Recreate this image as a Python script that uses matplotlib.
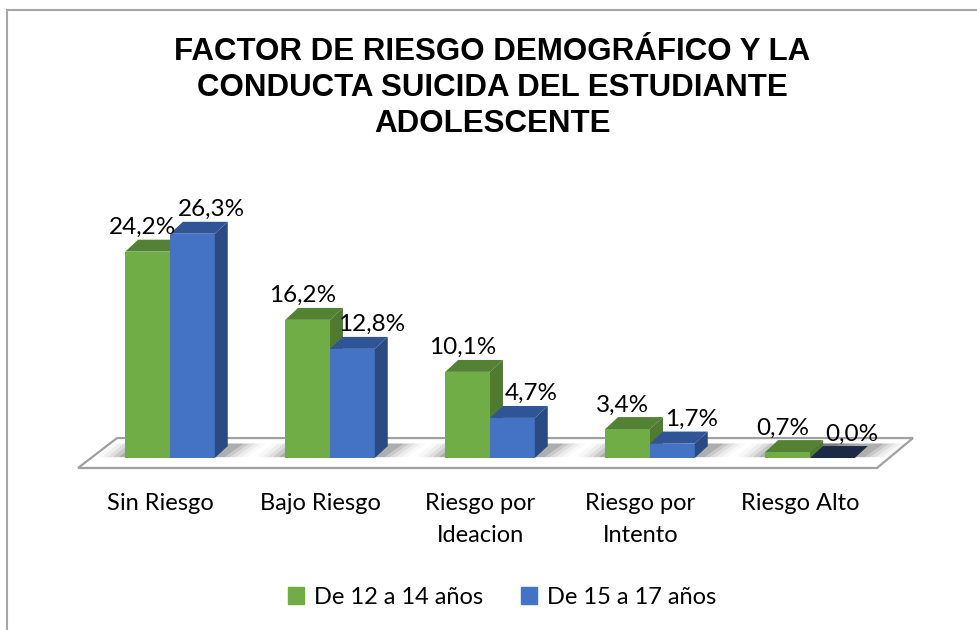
import matplotlib
matplotlib.use("Agg")
import matplotlib.pyplot as plt
from matplotlib.patches import Polygon, Rectangle

categories = ["Sin Riesgo", "Bajo Riesgo", "Riesgo por\nIdeacion", "Riesgo por\nIntento", "Riesgo Alto"]
series_names = ["De 12 a 14 años", "De 15 a 17 años"]
vals_12_14 = [24.2, 16.2, 10.1, 3.4, 0.7]
vals_15_17 = [26.3, 12.8, 4.7, 1.7, 0.0]

TITLE = "FACTOR DE RIESGO DEMOGRÁFICO Y LA\nCONDUCTA SUICIDA DEL ESTUDIANTE\nADOLESCENTE"

# front / top / side shades per series
GREEN = ("#70AD47", "#548235", "#4E7A31")
BLUE = ("#4472C4", "#2F5597", "#2B4A84")
ZERO_TOP = "#1B2A47"
INK = "#000000"
FONT = "Lato"

W = 0.28          # bar width in category units
DX, DY = 0.081, 1.4   # fake 3D depth (x units, y units)

fig = plt.figure(figsize=(9.77, 6.3), dpi=100)
fig.patches.append(Rectangle((7 / 977, -0.1), 1.2, 1 - 10 / 630 + 0.1, transform=fig.transFigure,
                             fill=False, edgecolor="#A6A6A6", lw=1.5))
ax = fig.add_axes([60 / 977, 1 - 480 / 630, 870 / 977, 300 / 630])
ax.set_xlim(-0.6875, 4.75)
ax.set_ylim(-2.58, 32.6)
ax.axis("off")

# floor
floor = Polygon([(-0.575, -1.17), (4.419, -1.17), (4.644, 2.34), (-0.331, 2.34)],
                closed=True, facecolor="white", edgecolor="#A0A0A0", lw=1.6, zorder=0)
ax.add_patch(floor)

x = list(range(len(categories)))


def draw_bar(x0, h, cols, zero_col=None):
    front, top, side = cols
    # soft shadow behind the bar on the floor
    for k, a in enumerate([0.16, 0.12, 0.08, 0.05, 0.03]):
        s = 0.035 * k
        ax.add_patch(Polygon([(x0 - 0.04 - s, 0.1), (x0 + W + 0.06 + s, 0.1),
                              (x0 + W + DX + 0.10 + s, DY + 0.3), (x0 + DX - 0.02 - s, DY + 0.3)],
                             closed=True, facecolor="#303030", alpha=a, lw=0, zorder=1))
    ax.bar(x0, h, width=W, align="edge", color=front, lw=0, zorder=3)
    ax.add_patch(Polygon([(x0, h), (x0 + W, h), (x0 + W + DX, h + DY), (x0 + DX, h + DY)],
                         closed=True, facecolor=zero_col if (h == 0 and zero_col) else top,
                         lw=0, zorder=3))
    ax.add_patch(Polygon([(x0 + W, 0), (x0 + W + DX, DY), (x0 + W + DX, h + DY), (x0 + W, h)],
                         closed=True, facecolor=side, lw=0, zorder=3))


for i in x:
    draw_bar(i - W, vals_12_14[i], GREEN)
    draw_bar(i, vals_15_17[i], BLUE, ZERO_TOP)

for i in x:
    g, b = vals_12_14[i], vals_15_17[i]
    ax.text(i - W / 2 - 0.03, g + DY + 0.2, f"{g:.1f}%".replace(".", ","), ha="center", va="bottom",
            fontsize=17.5, family=FONT, color=INK, zorder=5)
    ax.text(i + W / 2 + 0.12, b + DY + 0.2, f"{b:.1f}%".replace(".", ","), ha="center", va="bottom",
            fontsize=17.5, family=FONT, color=INK, zorder=5)

for i, c in enumerate(categories):
    ax.text(i - 0.06, -4.1, c, ha="center", va="top", fontsize=17, family=FONT,
            color=INK, linespacing=1.62)

fig.text(492 / 977, 1 - 88 / 630, TITLE, ha="center", va="center", fontsize=22.5,
         fontweight="bold", family="Liberation Sans", linespacing=1.26, color=INK)

handles = [Rectangle((0, 0), 1, 1, color=GREEN[0]), Rectangle((0, 0), 1, 1, color=BLUE[0])]
fig.legend(handles, series_names, loc="center", bbox_to_anchor=(502 / 977, 1 - 597 / 630),
           ncol=2, frameon=False, prop={"family": FONT, "size": 17},
           handlelength=0.7, handleheight=0.7, handletextpad=0.4, columnspacing=1.6)

fig.savefig("out.png", dpi=100)
